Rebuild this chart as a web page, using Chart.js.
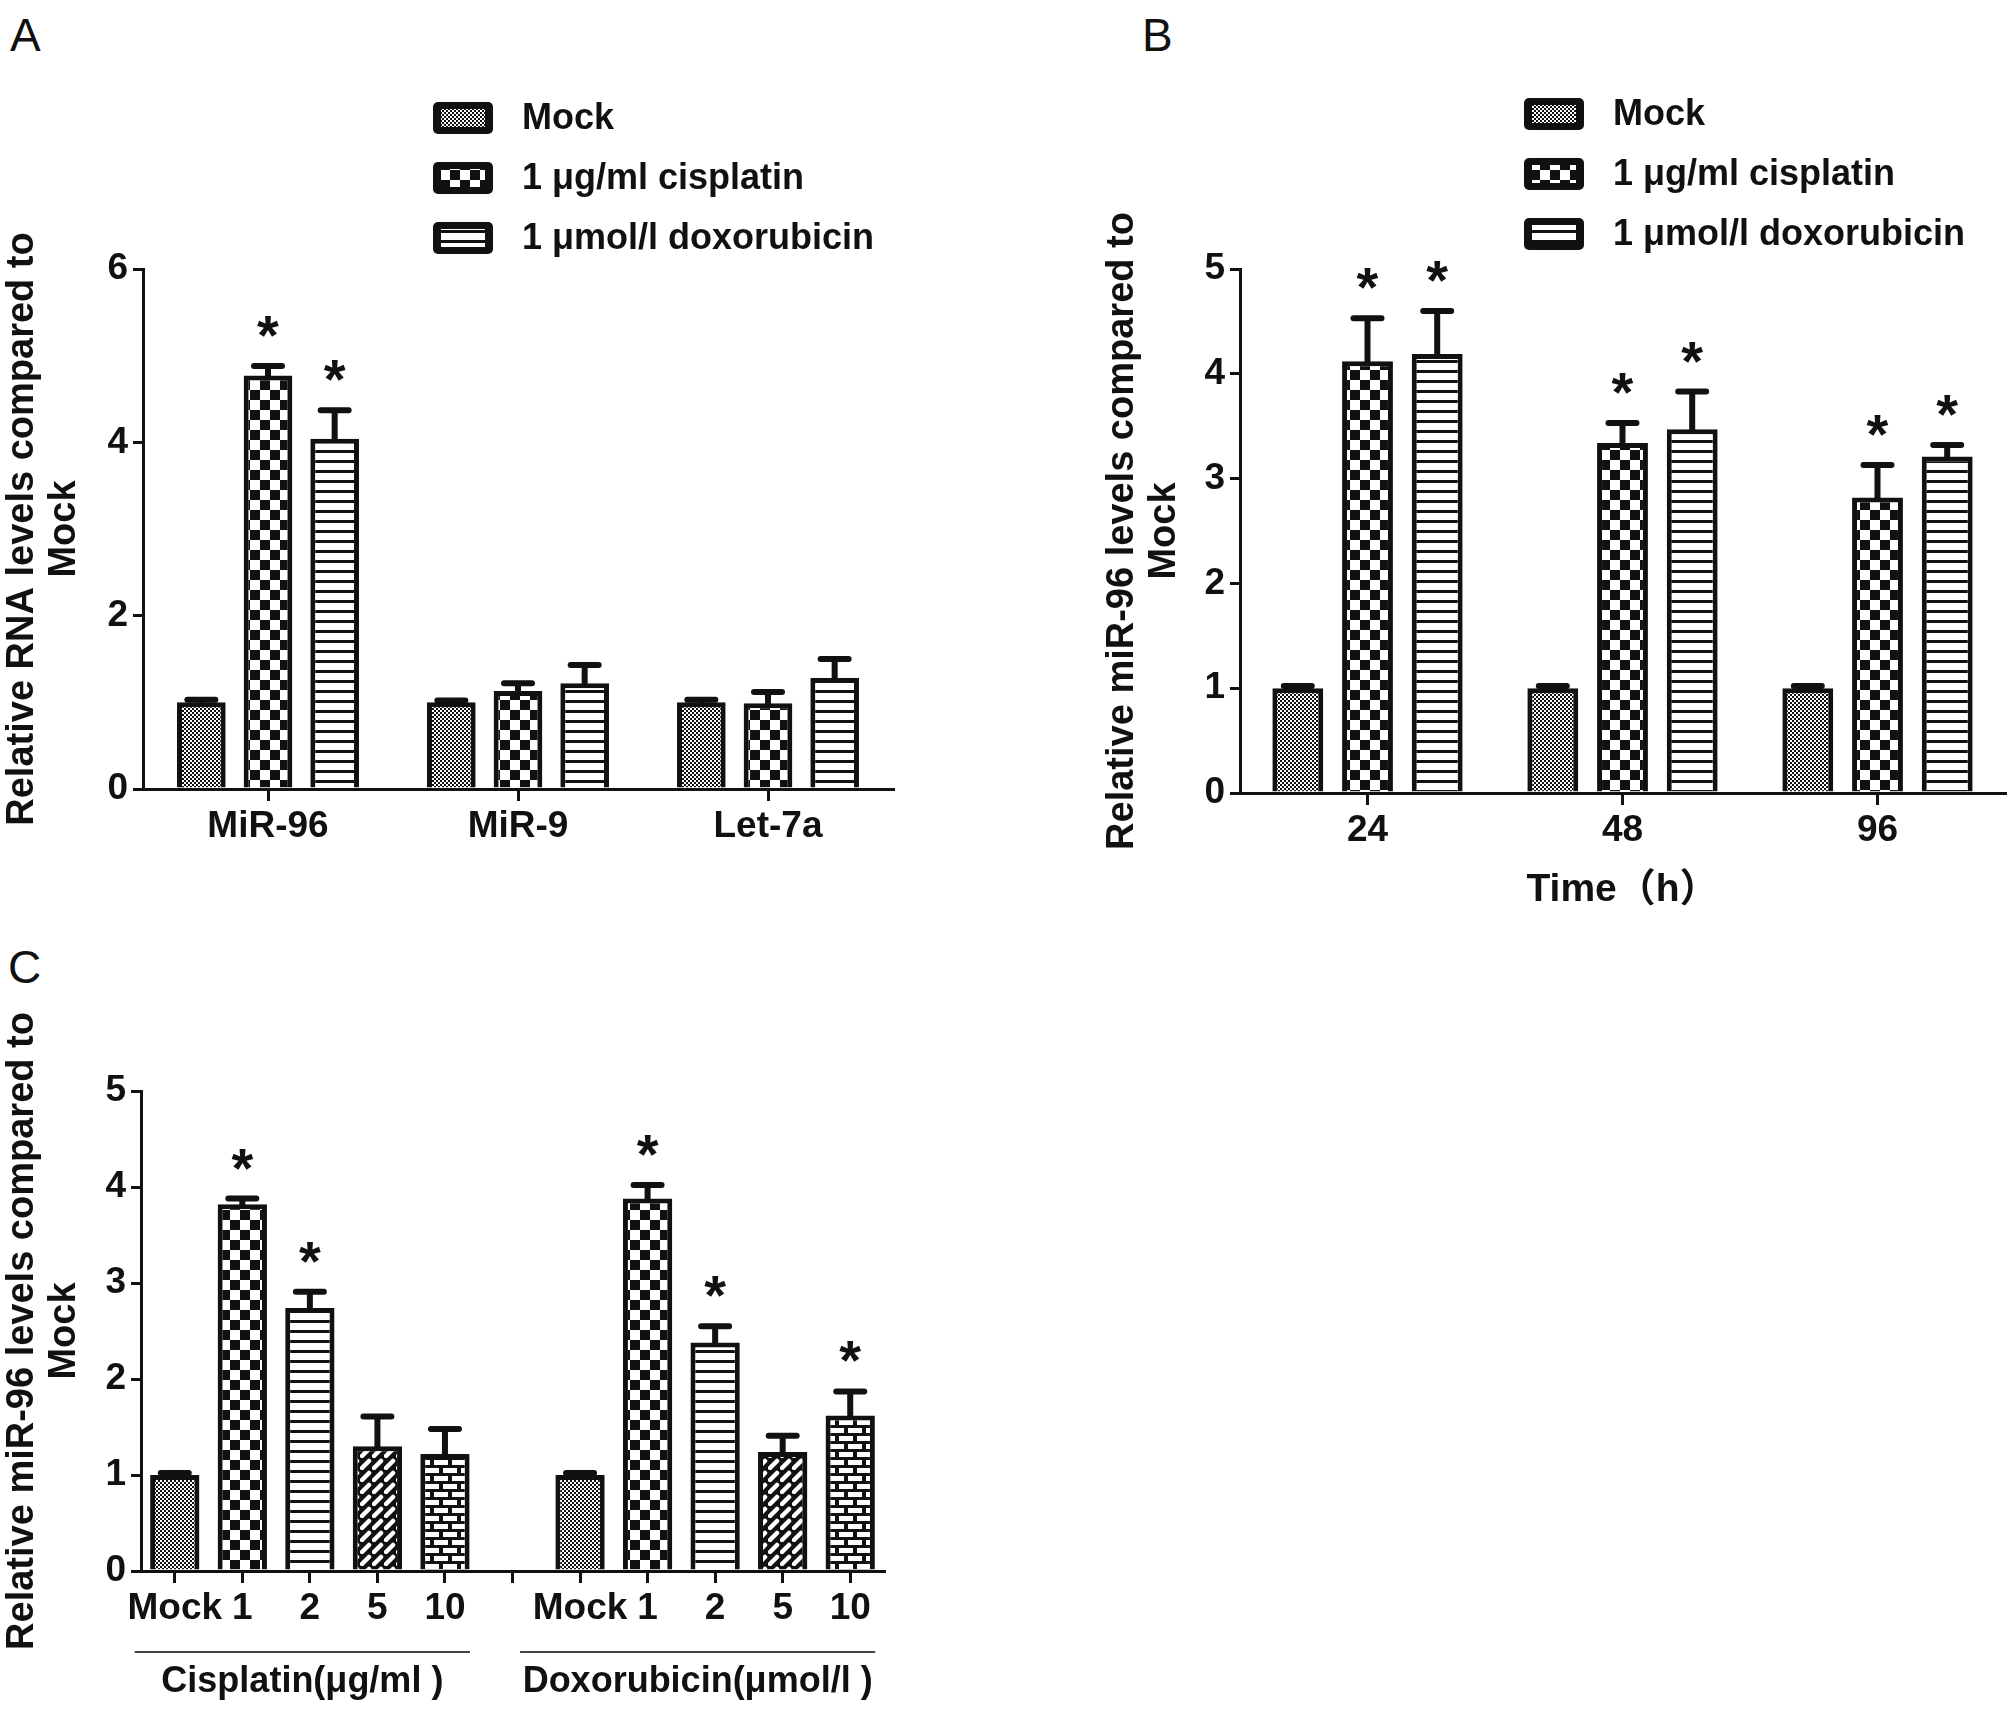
<!DOCTYPE html>
<html>
<head>
<meta charset="utf-8">
<script src="https://cdn.jsdelivr.net/npm/chart.js@4.4.1/dist/chart.umd.min.js"></script>
<style>
  body { margin: 0; background: #fff; width: 2008px; height: 1713px; position: relative; overflow: hidden; }
  canvas { position: absolute; }
  .letter { position: absolute; font-family: "Liberation Sans", Arial, sans-serif; font-size: 46px; line-height: 1; color: #111; }
</style>
</head>
<body>
<div class="letter" style="left:10px;top:12px">A</div>
<div class="letter" style="left:1142px;top:12px">B</div>
<div class="letter" style="left:8px;top:944px">C</div>
<canvas id="chartA" width="1000" height="900" style="left:0;top:0"></canvas>
<canvas id="chartB" width="908" height="920" style="left:1100px;top:0"></canvas>
<canvas id="chartC" width="1000" height="783" style="left:0;top:930px"></canvas>
<script>
const seriesNames = ["Mock", "1 μg/ml cisplatin", "1 μmol/l doxorubicin"];

/* Panel A */
const panelACategories = ["MiR-96", "MiR-9", "Let-7a"];
const panelAMock = [1.0, 1.0, 1.0];
const panelAMockErr = [0.03, 0.02, 0.03];
const panelACis = [4.77, 1.13, 0.99];
const panelACisErr = [0.11, 0.09, 0.13];
const panelADox = [4.04, 1.22, 1.28];
const panelADoxErr = [0.33, 0.21, 0.22];
const panelACisStar = [true, false, false];
const panelADoxStar = [true, false, false];

/* Panel B */
const panelBCategories = ["24", "48", "96"];
const panelBMock = [1.0, 1.0, 1.0];
const panelBMockErr = [0.02, 0.02, 0.02];
const panelBCis = [4.12, 3.34, 2.82];
const panelBCisErr = [0.41, 0.19, 0.31];
const panelBDox = [4.19, 3.47, 3.21];
const panelBDoxErr = [0.41, 0.36, 0.11];
const panelBCisStar = [true, true, true];
const panelBDoxStar = [true, true, true];

/* Panel C */
const panelCLabels = ["Mock", "1", "2", "5", "10", "", "Mock", "1", "2", "5", "10"];
const panelCValues = [1.0, 3.82, 2.74, 1.30, 1.22, null, 1.0, 3.88, 2.38, 1.24, 1.62];
const panelCErrors = [0.02, 0.06, 0.17, 0.31, 0.26, null, 0.02, 0.14, 0.17, 0.17, 0.25];
const panelCStars = [false, true, true, false, false, false, false, true, true, false, true];
const panelCGroups = ["Cisplatin(μg/ml )", "Doxorubicin(μmol/l )"];

const FONT = '"Liberation Sans", Arial, "Noto Sans CJK SC", sans-serif';
const INK = "#111";

function makePatterns(ctx) {
    function tile(w, h, draw) {
        const t = document.createElement("canvas");
        t.width = w;
        t.height = h;
        const c = t.getContext("2d");
        draw(c);
        return ctx.createPattern(t, "repeat");
    }
    return {
        mock: tile(4, 4, c => {
            c.fillStyle = "#fff"; c.fillRect(0, 0, 4, 4);
            c.fillStyle = INK; c.fillRect(0, 0, 2, 2); c.fillRect(2, 2, 2, 2);
        }),
        cis: tile(20, 20, c => {
            c.fillStyle = "#fff"; c.fillRect(0, 0, 20, 20);
            c.fillStyle = INK; c.fillRect(0, 0, 10, 10); c.fillRect(10, 10, 10, 10);
        }),
        dox: tile(10, 10, c => {
            c.fillStyle = "#fff"; c.fillRect(0, 0, 10, 10);
            c.fillStyle = INK; c.fillRect(0, 0, 10, 3);
        }),
        diag: tile(12, 12, c => {
            c.fillStyle = INK; c.fillRect(0, 0, 12, 12);
            c.strokeStyle = "#fff"; c.lineWidth = 4.5; c.lineCap = "round";
            c.beginPath(); c.moveTo(2, 10); c.lineTo(9, 3); c.stroke();
        }),
        brick: tile(18, 16, c => {
            c.fillStyle = INK; c.fillRect(0, 0, 18, 16);
            c.fillStyle = "#fff";
            c.fillRect(2, 2, 14, 5);
            c.fillRect(-7, 10, 14, 5);
            c.fillRect(11, 10, 14, 5);
        })
    };
}

/* Upper error whiskers and significance stars */
const errorBars = {
    id: "errorBars",
    afterDatasetsDraw(chart) {
        const ctx = chart.ctx;
        const yScale = chart.scales.y;
        ctx.save();
        ctx.strokeStyle = INK;
        ctx.fillStyle = INK;
        ctx.lineCap = "round";
        chart.data.datasets.forEach((ds, di) => {
            const meta = chart.getDatasetMeta(di);
            meta.data.forEach((bar, i) => {
                const v = ds.data[i];
                if (v == null) return;
                const err = ds.errors ? ds.errors[i] : 0;
                const top = yScale.getPixelForValue(v + err);
                ctx.lineWidth = 6;
                ctx.beginPath();
                ctx.moveTo(bar.x, bar.y);
                ctx.lineTo(bar.x, top);
                ctx.moveTo(bar.x - 14, top);
                ctx.lineTo(bar.x + 14, top);
                ctx.stroke();
                if (ds.stars && ds.stars[i]) {
                    ctx.font = "bold 56px " + FONT;
                    ctx.textAlign = "center";
                    ctx.textBaseline = "alphabetic";
                    ctx.fillText("*", bar.x, top - 12);
                }
            });
        });
        ctx.restore();
    }
};

/* Vertical legend with pattern swatches */
const patternLegend = {
    id: "patternLegend",
    afterDraw(chart, args, opts) {
        if (!opts || opts.x == null) return;
        const ctx = chart.ctx;
        ctx.save();
        chart.data.datasets.forEach((ds, i) => {
            const cy = opts.y + i * opts.gap;
            ctx.fillStyle = INK;
            ctx.beginPath();
            ctx.roundRect(opts.x, cy - 16, 60, 32, 5);
            ctx.fill();
            ctx.fillStyle = ds.backgroundColor;
            ctx.fillRect(opts.x + 8, cy - 9, 44, 18);
            ctx.fillStyle = INK;
            ctx.font = "bold 36px " + FONT;
            ctx.textAlign = "left";
            ctx.textBaseline = "middle";
            ctx.fillText(ds.label, opts.x + 89, cy + 1);
        });
        ctx.restore();
    }
};

/* Group lines and labels under panel C */
const groupLabels = {
    id: "groupLabels",
    afterDraw(chart, args, opts) {
        if (!opts || !opts.groups) return;
        const ctx = chart.ctx;
        const x = chart.scales.x;
        ctx.save();
        ctx.strokeStyle = "#444";
        ctx.lineWidth = 2;
        ctx.fillStyle = INK;
        ctx.font = "bold 36px " + FONT;
        ctx.textAlign = "center";
        ctx.textBaseline = "middle";
        opts.groups.forEach(g => {
            const x0 = x.getPixelForValue(g.from) - g.padL;
            const x1 = x.getPixelForValue(g.to) + g.padR;
            ctx.beginPath();
            ctx.moveTo(x0, opts.lineY);
            ctx.lineTo(x1, opts.lineY);
            ctx.stroke();
            ctx.fillText(g.text, (x0 + x1) / 2, opts.textY);
        });
        ctx.restore();
    }
};

function tickFont(size) {
    return { family: FONT, size: size, weight: "bold" };
}

function xAxis(height, title) {
    return {
        offset: true,
        grid: { offset: false, drawOnChartArea: false, tickLength: 12, color: INK, lineWidth: 3 },
        border: { color: INK, width: 3 },
        ticks: { color: INK, font: tickFont(37), padding: 4, autoSkip: false, maxRotation: 0 },
        title: title ? { display: true, text: title, color: INK, font: tickFont(39), padding: { top: 0, bottom: 6 } } : { display: false },
        afterFit: s => { s.height = height; }
    };
}

function yAxis(max, step, width, title) {
    return {
        min: 0,
        max: max,
        grid: { drawOnChartArea: false, tickLength: 10, color: INK, lineWidth: 3 },
        border: { color: INK, width: 3 },
        ticks: { stepSize: step, color: INK, font: tickFont(37), padding: 5 },
        title: { display: true, text: title, color: INK, font: { family: FONT, size: 38, weight: "bold", lineHeight: 1.1 }, padding: { top: 2, bottom: 0 } },
        afterFit: s => { s.width = width; }
    };
}

/* Panel A */
const ctxA = document.getElementById("chartA").getContext("2d");
const patA = makePatterns(ctxA);
new Chart(ctxA, {
    type: "bar",
    data: {
        labels: panelACategories,
        datasets: [
            { label: seriesNames[0], data: panelAMock, errors: panelAMockErr, backgroundColor: patA.mock },
            { label: seriesNames[1], data: panelACis, errors: panelACisErr, stars: panelACisStar, backgroundColor: patA.cis },
            { label: seriesNames[2], data: panelADox, errors: panelADoxErr, stars: panelADoxStar, backgroundColor: patA.dox }
        ]
    },
    options: {
        responsive: false,
        animation: false,
        layout: { padding: { top: 269, right: 107, left: 0, bottom: 0 } },
        datasets: { bar: { categoryPercentage: 0.8, barPercentage: 0.73, borderColor: INK, borderWidth: 5 } },
        plugins: {
            legend: { display: false },
            tooltip: { enabled: false },
            patternLegend: { x: 433, y: 118, gap: 60 }
        },
        scales: {
            x: xAxis(111),
            y: yAxis(6, 2, 143, ["Relative RNA levels compared to", "Mock"])
        }
    },
    plugins: [errorBars, patternLegend]
});

/* Panel B */
const ctxB = document.getElementById("chartB").getContext("2d");
const patB = makePatterns(ctxB);
new Chart(ctxB, {
    type: "bar",
    data: {
        labels: panelBCategories,
        datasets: [
            { label: seriesNames[0], data: panelBMock, errors: panelBMockErr, backgroundColor: patB.mock },
            { label: seriesNames[1], data: panelBCis, errors: panelBCisErr, stars: panelBCisStar, backgroundColor: patB.cis },
            { label: seriesNames[2], data: panelBDox, errors: panelBDoxErr, stars: panelBDoxStar, backgroundColor: patB.dox }
        ]
    },
    options: {
        responsive: false,
        animation: false,
        layout: { padding: { top: 269, right: 3, left: 0, bottom: 0 } },
        datasets: { bar: { categoryPercentage: 0.82, barPercentage: 0.73, borderColor: INK, borderWidth: 5 } },
        plugins: {
            legend: { display: false },
            tooltip: { enabled: false },
            patternLegend: { x: 424, y: 114, gap: 60 }
        },
        scales: {
            x: xAxis(127, "Time（h）"),
            y: yAxis(5, 1, 140, ["Relative miR-96 levels compared to", "Mock"])
        }
    },
    plugins: [errorBars, patternLegend]
});

/* Panel C */
const ctxC = document.getElementById("chartC").getContext("2d");
const patC = makePatterns(ctxC);
const cStyles = ["mock", "cis", "dox", "diag", "brick", "mock", "mock", "cis", "dox", "diag", "brick"];
new Chart(ctxC, {
    type: "bar",
    data: {
        labels: panelCLabels,
        datasets: [
            { label: "miR-96", data: panelCValues, errors: panelCErrors, stars: panelCStars, backgroundColor: cStyles.map(k => patC[k]) }
        ]
    },
    options: {
        responsive: false,
        animation: false,
        layout: { padding: { top: 161, right: 116, left: 0, bottom: 0 } },
        datasets: { bar: { categoryPercentage: 1, barPercentage: 0.73, borderColor: INK, borderWidth: 5 } },
        plugins: {
            legend: { display: false },
            tooltip: { enabled: false },
            groupLabels: {
                lineY: 722,
                textY: 752,
                groups: [
                    { from: 0, to: 4, padL: 40, padR: 25, text: panelCGroups[0] },
                    { from: 6, to: 10, padL: 60, padR: 25, text: panelCGroups[1] }
                ]
            }
        },
        scales: {
            x: xAxis(142),
            y: yAxis(5, 1, 141, ["Relative miR-96 levels compared to", "Mock"])
        }
    },
    plugins: [errorBars, groupLabels]
});
</script>
</body>
</html>
